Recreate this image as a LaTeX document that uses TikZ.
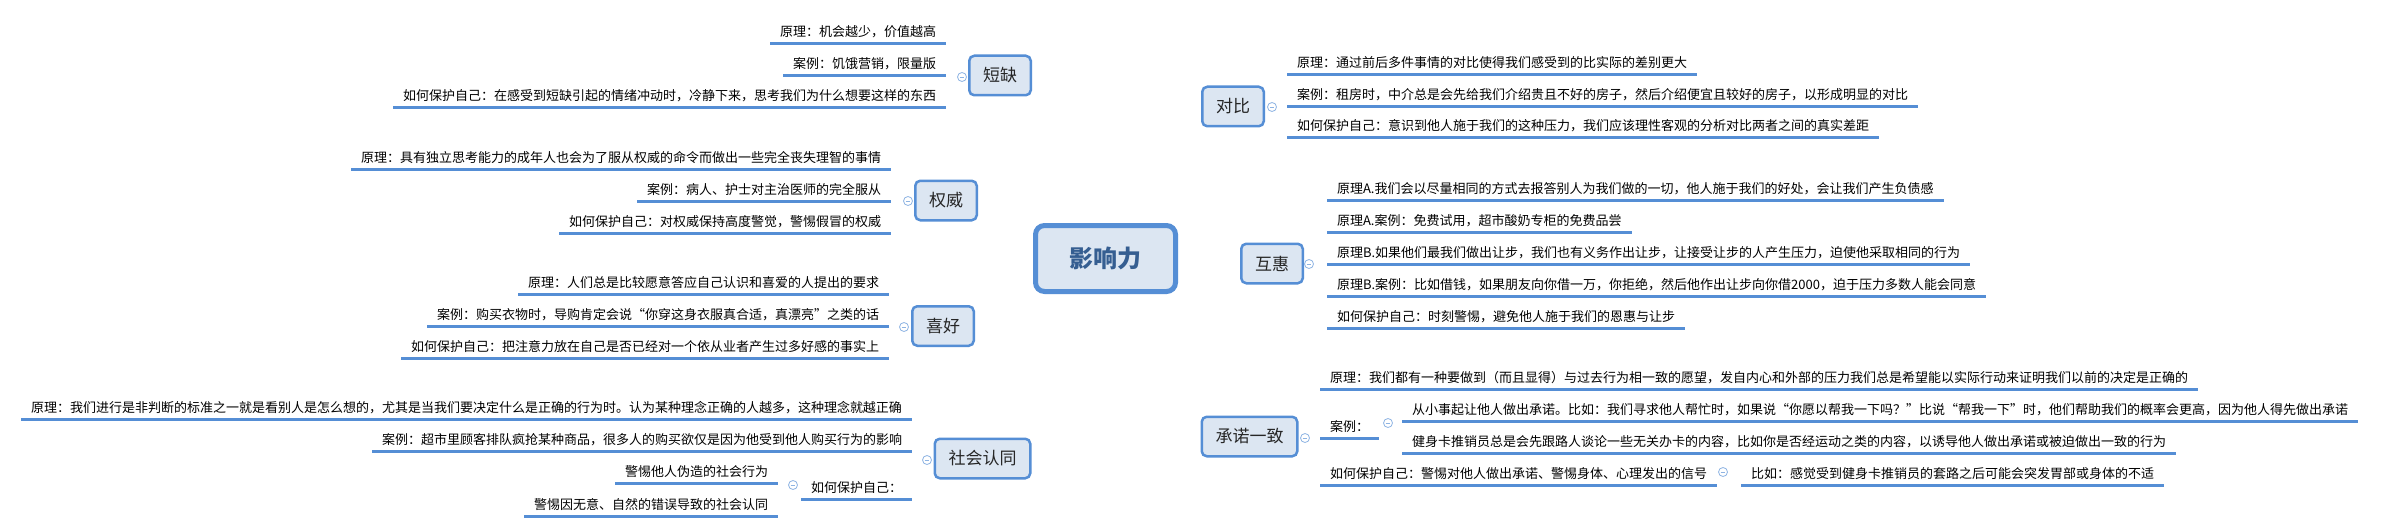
\documentclass[tikz,border=0pt]{standalone}
\usepackage{fontspec}
\setmainfont{Noto Sans CJK SC}
\pgfdeclarelayer{bg}
\pgfsetlayers{bg,main}
\definecolor{lineblue}{HTML}{558ED5}
\definecolor{connblue}{HTML}{6F9FDA}
\definecolor{boxfill}{HTML}{DCE6F2}
\definecolor{circblue}{HTML}{8EB4E3}
\definecolor{centtext}{HTML}{355E91}
\tikzset{
 leaf/.style={font=\fontsize{13}{15}\selectfont, inner xsep=10pt, inner ysep=5pt, text height=10pt, text depth=2pt, outer sep=0pt},
 leafl/.style={leaf, anchor=south east},
 leafr/.style={leaf, anchor=south west},
 uline/.style={draw=lineblue, line width=3pt},
 conn/.style={draw=connblue, line width=0.9pt},
 mainbox/.style={draw=lineblue, fill=boxfill, line width=2.5pt, rounded corners=5pt, font=\fontsize{17}{20}\selectfont, inner xsep=13.75pt, minimum height=39.5pt, text=black!85},
 centbox/.style={draw=lineblue, fill=boxfill, line width=5pt, rounded corners=9pt, font=\fontsize{24}{28}\selectfont\bfseries, minimum width=140pt, minimum height=66pt, text=centtext},
 collapse/.style={circle, draw=circblue, fill=white, line width=0.8pt, minimum size=9pt, inner sep=0pt,
   path picture={\draw[circblue, line width=0.8pt] ([xshift=2.2pt]path picture bounding box.west) -- ([xshift=-2.2pt]path picture bounding box.east);}}
}
\begin{document}
\begin{tikzpicture}[x=1pt,y=-1pt]
\fill[white] (0,0) rectangle (2384,532);
\useasboundingbox (0,0) rectangle (2384,532);

% central and main nodes
\node[centbox] (c) at (1105.5,258.5) {影响力};
\node[mainbox] (dq) at (1000,75.5) {短缺};
\node[mainbox] (qw) at (946,200.5) {权威};
\node[mainbox] (xh) at (943,326) {喜好};
\node[mainbox] (sh) at (982.5,458.5) {社会认同};
\node[mainbox] (db) at (1233,106.5) {对比};
\node[mainbox] (hh) at (1272,263.5) {互惠};
\node[mainbox] (cn) at (1249.5,436.5) {承诺一致};

% left leaves
\node[leafl] (dq1) at (946,44) {原理：机会越少，价值越高};
\node[leafl] (dq2) at (946,76) {案例：饥饿营销，限量版};
\node[leafl] (dq3) at (946,108) {如何保护自己：在感受到短缺引起的情绪冲动时，冷静下来，思考我们为什么想要这样的东西};
\node[leafl] (qw1) at (891,169) {原理：具有独立思考能力的成年人也会为了服从权威的命令而做出一些完全丧失理智的事情};
\node[leafl] (qw2) at (891,201) {案例：病人、护士对主治医师的完全服从};
\node[leafl] (qw3) at (891,233) {如何保护自己：对权威保持高度警觉，警惕假冒的权威};
\node[leafl] (xh1) at (889,294) {原理：人们总是比较愿意答应自己认识和喜爱的人提出的要求};
\node[leafl] (xh2) at (889,326) {案例：购买衣物时，导购肯定会说“你穿这身衣服真合适，真漂亮”之类的话};
\node[leafl] (xh3) at (889,358) {如何保护自己：把注意力放在自己是否已经对一个依从业者产生过多好感的事实上};
\node[leafl] (sh1) at (912,419) {原理：我们进行是非判断的标准之一就是看别人是怎么想的，尤其是当我们要决定什么是正确的行为时。认为某种理念正确的人越多，这种理念就越正确};
\node[leafl] (sh2) at (912,451) {案例：超市里顾客排队疯抢某种商品，很多人的购买欲仅是因为他受到他人购买行为的影响};
\node[leafl] (sh3) at (912,499) {如何保护自己：};
\node[leafl] (sh31) at ([shift={(-23pt,16pt)}]sh3.south west) {警惕他人伪造的社会行为};
\node[leafl] (sh32) at ([shift={(-23pt,-17pt)}]sh3.south west) {警惕因无意、自然的错误导致的社会认同};

% right leaves
\node[leafr] (db1) at (1287,75) {原理：通过前后多件事情的对比使得我们感受到的比实际的差别更大};
\node[leafr] (db2) at (1287,107) {案例：租房时，中介总是会先给我们介绍贵且不好的房子，然后介绍便宜且较好的房子，以形成明显的对比};
\node[leafr] (db3) at (1287,138) {如何保护自己：意识到他人施于我们的这种压力，我们应该理性客观的分析对比两者之间的真实差距};
\node[leafr] (hh1) at (1327,200) {原理A.我们会以尽量相同的方式去报答别人为我们做的一切，他人施于我们的好处，会让我们产生负债感};
\node[leafr] (hh2) at (1327,232) {原理A.案例：免费试用，超市酸奶专柜的免费品尝};
\node[leafr] (hh3) at (1327,264) {原理B.如果他们最我们做出让步，我们也有义务作出让步，让接受让步的人产生压力，迫使他采取相同的行为};
\node[leafr] (hh4) at (1327,296) {原理B.案例：比如借钱，如果朋友向你借一万，你拒绝，然后他作出让步向你借2000，迫于压力多数人能会同意};
\node[leafr] (hh5) at (1327,328) {如何保护自己：时刻警惕，避免他人施于我们的恩惠与让步};
\node[leafr] (cn1) at (1320,389) {原理：我们都有一种要做到（而且显得）与过去行为相一致的愿望，发自内心和外部的压力我们总是希望能以实际行动来证明我们以前的决定是正确的};
\node[leafr] (cn2) at (1320,438) {案例：};
\node[leafr] (cn21) at ([shift={(23pt,17pt)}]cn2.south east) {从小事起让他人做出承诺。比如：我们寻求他人帮忙时，如果说“你愿以帮我一下吗？”比说“帮我一下”时，他们帮助我们的概率会更高，因为他人得先做出承诺};
\node[leafr] (cn22) at ([shift={(23pt,-15pt)}]cn2.south east) {健身卡推销员总是会先跟路人谈论一些无关办卡的内容，比如你是否经运动之类的内容，以诱导他人做出承诺或被迫做出一致的行为};
\node[leafr] (cn3) at (1320,485) {如何保护自己：警惕对他人做出承诺、警惕身体、心理发出的信号};
\node[leafr] (cn31) at ([xshift=24pt]cn3.south east) {比如：感觉受到健身卡推销员的套路之后可能会突发胃部或身体的不适};

% underlines
\foreach \n in {dq1,dq2,dq3,qw1,qw2,qw3,xh1,xh2,xh3,sh1,sh2,sh3,sh31,sh32,db1,db2,db3,hh1,hh2,hh3,hh4,hh5,cn1,cn2,cn21,cn22,cn3,cn31}
  \draw[uline] (\n.south west) -- (\n.south east);

% collapse circles
\node[collapse] (dqc) at (962,77) {};
\node[collapse] (qwc) at (908,201) {};
\node[collapse] (xhc) at (904,327) {};
\node[collapse] (shc) at (927,460) {};
\node[collapse] (sh3c) at ([shift={(-8pt,14pt)}]sh3.south west) {};
\node[collapse] (dbc) at (1272,107) {};
\node[collapse] (hhc) at (1309,264) {};
\node[collapse] (cnc) at (1305,438) {};
\node[collapse] (cn2c) at ([shift={(9pt,15pt)}]cn2.south east) {};
\node[collapse] (cn3c) at ([shift={(6pt,13pt)}]cn3.south east) {};

\begin{pgfonlayer}{bg}
% main connectors
\draw[conn] (dq.east) .. controls +(45,0) and +(-2,-75) .. ([xshift=-14pt]c.north);
\draw[conn] (db.west) .. controls +(-40,0) and +(2,-75) .. ([xshift=22pt]c.north);
\draw[conn] (qw.east) .. controls +(35,0) and +(-12,-12) .. ([shift={(2.5pt,-2.5pt)}]c.north west);
\draw[conn] (xh.east) .. controls +(35,0) and +(-12,12) .. ([shift={(2.5pt,2.5pt)}]c.south west);
\draw[conn] (c.east) .. controls +(30,0) and +(-30,0) .. (hh.west);
\draw[conn] (sh.east) .. controls +(45,0) and +(-2,75) .. ([xshift=-13pt]c.south);
\draw[conn] (cn.west) .. controls +(-45,0) and +(2,75) .. ([xshift=25pt]c.south);
% left branch connectors
\foreach \p/\k in {dqc/dq1,dqc/dq2,dqc/dq3,qwc/qw1,qwc/qw2,qwc/qw3,xhc/xh1,xhc/xh2,xhc/xh3,shc/sh1,shc/sh2,shc/sh3}
  \draw[conn] (\p.center) -- (\p.west) .. controls +(-6,0) and +(6,0) .. (\k.south east);
\draw[conn] (sh3.south west) -- ++(-11,0) coordinate (sh3j);
\draw[conn] (sh3j) .. controls +(-5,0) and +(5,0) .. (sh31.south east);
\draw[conn] (sh3j) .. controls +(-5,0) and +(5,0) .. (sh32.south east);
% right branch connectors
\foreach \p/\k in {dbc/db1,dbc/db2,dbc/db3,hhc/hh1,hhc/hh2,hhc/hh3,hhc/hh4,hhc/hh5,cnc/cn1,cnc/cn2,cnc/cn3}
  \draw[conn] (\p.center) -- (\p.east) .. controls +(6,0) and +(-6,0) .. (\k.south west);
\draw[conn] (cn2.south east) -- ++(14,0) coordinate (cn2j);
\draw[conn] (cn2j) .. controls +(5,0) and +(-5,0) .. (cn21.south west);
\draw[conn] (cn2j) .. controls +(5,0) and +(-5,0) .. (cn22.south west);
\draw[conn] (cn3.south east) -- (cn31.south west);
\end{pgfonlayer}
\end{tikzpicture}
\end{document}
